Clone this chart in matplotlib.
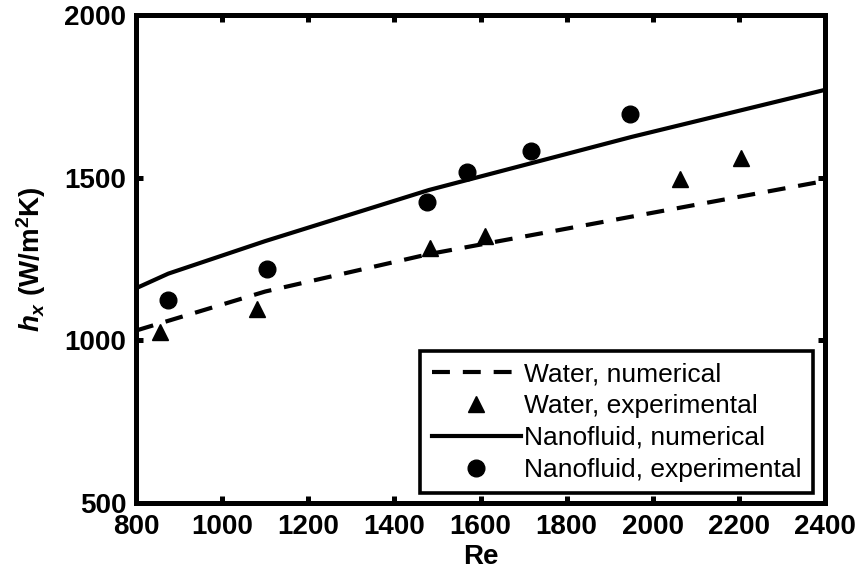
import numpy as np
import matplotlib.pyplot as plt

plt.rcParams['font.family'] = ['Liberation Sans', 'DejaVu Sans']
plt.rcParams['mathtext.fontset'] = 'custom'
plt.rcParams['mathtext.rm'] = 'Liberation Sans:bold'
plt.rcParams['mathtext.it'] = 'Liberation Sans:bold:italic'
plt.rcParams['mathtext.bf'] = 'Liberation Sans:bold'

# numerical curves
re_num = [800, 875, 1100, 1480, 1950, 2400]
water_num = [1030, 1060, 1150, 1265, 1380, 1490]
nano_num = [1160, 1205, 1305, 1462, 1625, 1770]

# experimental points
re_water_exp = [856, 1081, 1483, 1611, 2064, 2205]
water_exp = [1026, 1097, 1284, 1321, 1496, 1561]
re_nano_exp = [874, 1104, 1476, 1569, 1718, 1948]
nano_exp = [1124, 1220, 1425, 1518, 1582, 1696]

fig = plt.figure(figsize=(8.57, 5.73), dpi=100)
ax = fig.add_axes([0.1587, 0.1222, 0.804, 0.8516])

ax.plot(re_num, water_num, color='k', lw=3, linestyle=(0, (4.3, 3.1)),
        label='Water, numerical')
ax.plot(re_water_exp, water_exp, 'k^', ms=12, linestyle='none',
        label='Water, experimental')
ax.plot(re_num, nano_num, color='k', lw=3, label='Nanofluid, numerical')
ax.plot(re_nano_exp, nano_exp, 'ko', ms=12, linestyle='none',
        label='Nanofluid, experimental')

ax.set_xlim(800, 2400)
ax.set_ylim(500, 2000)
ax.set_xticks(np.arange(800, 2401, 200))
ax.set_yticks([500, 1000, 1500, 2000])

for s in ax.spines.values():
    s.set_linewidth(3.6)
ax.tick_params(direction='in', length=5, width=3.6, top=True, right=True,
               labelsize=20)
ax.tick_params(axis='y', pad=7)
ax.tick_params(axis='x', pad=8)
for lab in ax.get_xticklabels() + ax.get_yticklabels():
    lab.set_fontweight('bold')

ax.set_xlabel('Re', fontsize=20, fontweight='bold', labelpad=3)
ax.set_ylabel(r'$h_x$ (W/m$^2$K)', fontsize=20, fontweight='bold', labelpad=12)

leg = ax.legend(loc='lower right', bbox_to_anchor=(0.9826, 0.0205),
                borderaxespad=0, fancybox=False, fontsize=19,
                handlelength=3.4, handletextpad=0.12, labelspacing=0.3,
                borderpad=0.42, framealpha=1)
leg.get_frame().set_edgecolor('k')
leg.get_frame().set_linewidth(2.6)

fig.savefig('out.png', dpi=100)
